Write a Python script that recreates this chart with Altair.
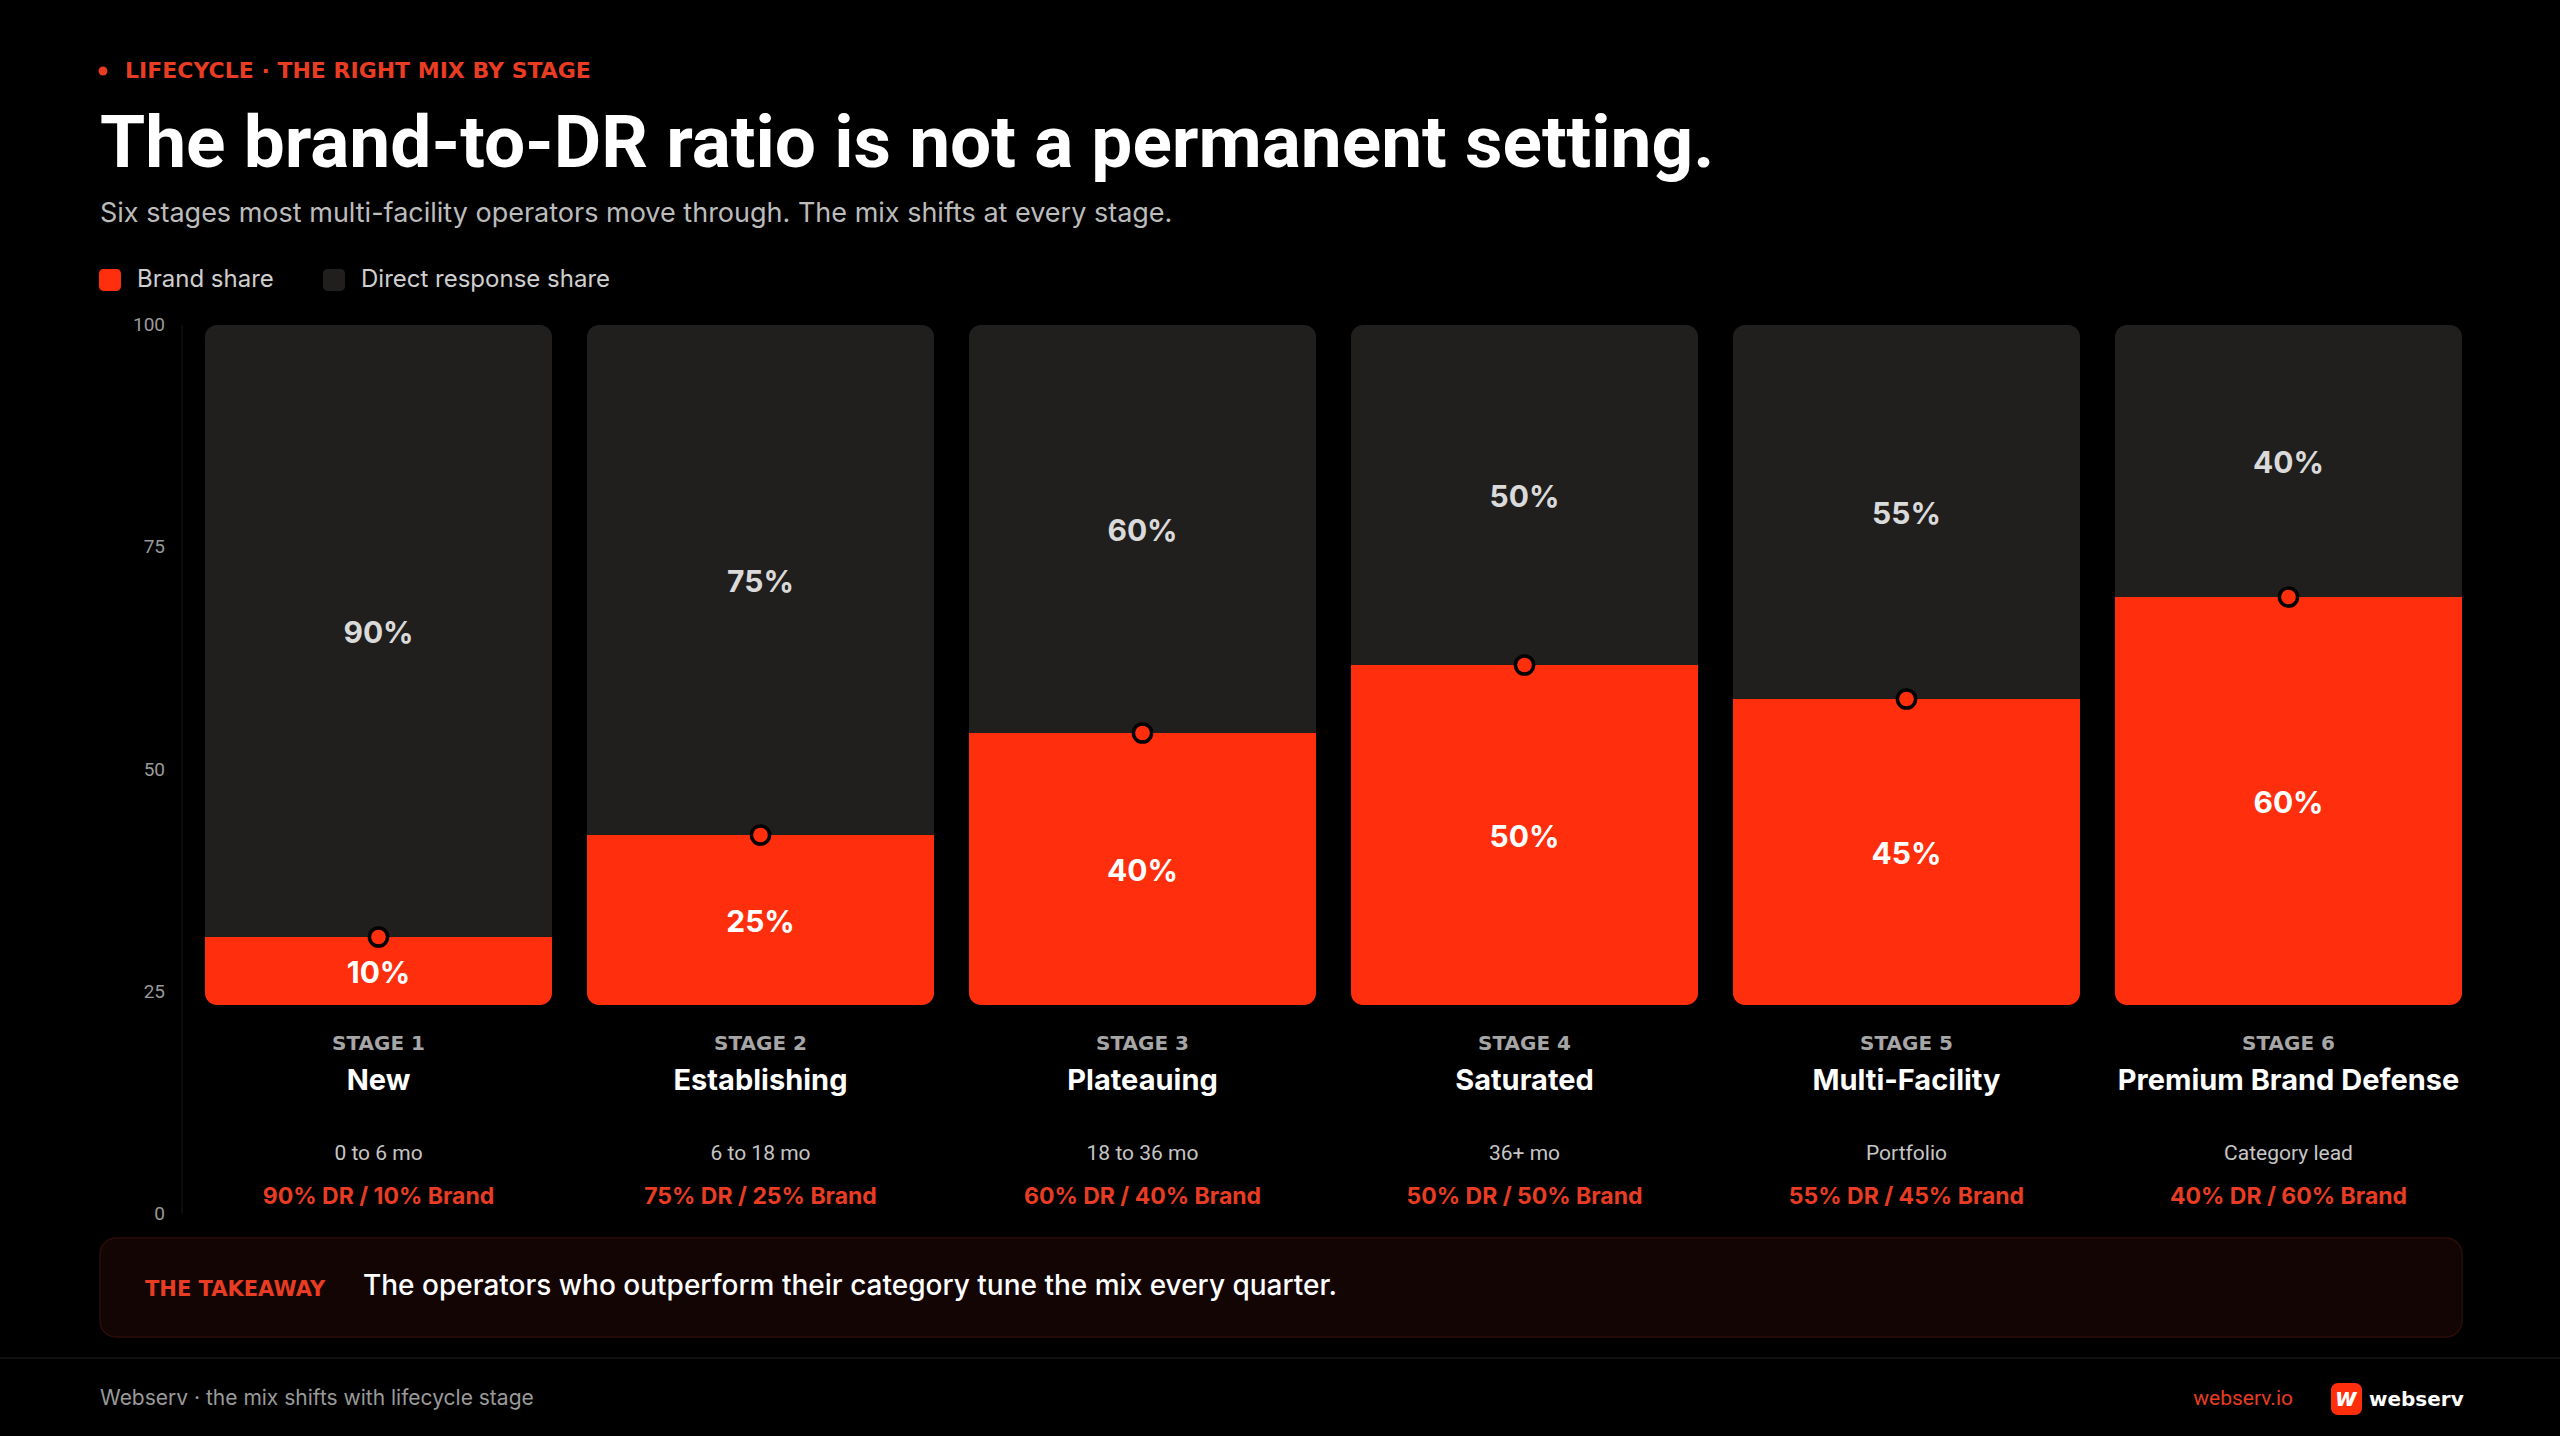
import altair as alt
import pandas as pd

# ---- chart content ----
STAGE_TAGS = ["STAGE 1", "STAGE 2", "STAGE 3", "STAGE 4", "STAGE 5", "STAGE 6"]
STAGE_NAMES = ["New", "Establishing", "Plateauing", "Saturated", "Multi-Facility",
               "Premium Brand Defense"]
STAGE_PERIODS = ["0 to 6 mo", "6 to 18 mo", "18 to 36 mo", "36+ mo", "Portfolio",
                 "Category lead"]
BRAND_SHARE = [10, 25, 40, 50, 45, 60]
DR_SHARE = [90, 75, 60, 50, 55, 40]
AXIS_TICKS = [0, 25, 50, 75, 100]
SERIES = ["Brand share", "Direct response share"]

EYEBROW = "LIFECYCLE · THE RIGHT MIX BY STAGE"
TITLE = "The brand-to-DR ratio is not a permanent setting."
SUBTITLE = ("Six stages most multi-facility operators move through. "
            "The mix shifts at every stage.")
TAKEAWAY_TAG = "THE TAKEAWAY"
TAKEAWAY = "The operators who outperform their category tune the mix every quarter."
FOOTER = "Webserv · the mix shifts with lifecycle stage"
SITE = "webserv.io"
BRAND_NAME = "webserv"
LOGO_GLYPH = "w"

# ---- palette / fonts ----
RED = "#ff2f0d"
RED_TEXT = "#e83c23"
DARK = "#211f1e"
BG = "#000000"
SANS = "Roboto"
TEXT = "Inter"
WIDE = "DejaVu Sans"

W, H = 2560, 1436

df = pd.DataFrame({
    "tag": STAGE_TAGS,
    "name": STAGE_NAMES,
    "period": STAGE_PERIODS,
    "brand": BRAND_SHARE,
    "dr": DR_SHARE,
})
df["total"] = df["brand"] + df["dr"]
df["brand_mid"] = df["brand"] / 2
df["dr_mid"] = df["brand"] + df["dr"] / 2
df["brand_label"] = df["brand"].astype(str) + "%"
df["dr_label"] = df["dr"].astype(str) + "%"
df["mix"] = df["dr"].astype(str) + "% DR / " + df["brand"].astype(str) + "% Brand"

# shared scales: the bars sit in their own band, the tick column spans further down
X = alt.X("name:N", axis=None,
          scale=alt.Scale(domain=STAGE_NAMES, range=[205, 2462],
                          paddingInner=0.0916, paddingOuter=0))
Y_SCALE = alt.Scale(domain=[0, 100], range=[1005, 325], nice=False)
TICK_SCALE = alt.Scale(domain=[0, 100], range=[1214, 325], nice=False)

ROUND_SQUARE = ("M-0.6,-1H0.6A0.4,0.4 0 0 1 1,-0.6V0.6A0.4,0.4 0 0 1 0.6,1"
                "H-0.6A0.4,0.4 0 0 1 -1,0.6V-0.6A0.4,0.4 0 0 1 -0.6,-1Z")

COLOR = alt.Color(
    "series:N",
    scale=alt.Scale(domain=SERIES, range=[RED, DARK]),
    legend=alt.Legend(
        title=None, orient="none", legendX=98, legendY=268, direction="horizontal",
        symbolType=ROUND_SQUARE, symbolSize=484, symbolStrokeWidth=0,
        symbolOpacity=1, labelFont=TEXT, labelFontSize=24, labelColor="#cfcfcf",
        labelOffset=15, labelLimit=500, columnPadding=48, padding=0, offset=0,
    ),
)

base = alt.Chart(df)

dr_bars = base.transform_calculate(series="'Direct response share'").mark_bar(
    cornerRadiusTopLeft=12, cornerRadiusTopRight=12
).encode(
    x=X,
    y=alt.Y("brand:Q", scale=Y_SCALE, axis=None, stack=None),
    y2="total:Q",
    color=COLOR,
)

brand_bars = base.transform_calculate(series="'Brand share'").mark_bar(
    cornerRadiusBottomLeft=12, cornerRadiusBottomRight=12
).encode(
    x=X,
    y=alt.Y("brand:Q", scale=Y_SCALE, axis=None, stack=None),
    y2=alt.datum(0),
    color=COLOR,
)

markers = base.mark_point(
    shape="circle", filled=True, fill=RED, stroke="#000000", strokeWidth=3.5,
    size=330, opacity=1,
).encode(x=X, y=alt.Y("brand:Q", scale=Y_SCALE, axis=None))

dr_text = base.mark_text(
    font=TEXT, fontWeight="bold", fontSize=30, color="#dadada", baseline="middle",
    dy=3,
).encode(x=X, y=alt.Y("dr_mid:Q", scale=Y_SCALE, axis=None), text="dr_label:N")

brand_text = base.mark_text(
    font=TEXT, fontWeight="bold", fontSize=30, color="#ffffff", baseline="middle",
    dy=3,
).encode(x=X, y=alt.Y("brand_mid:Q", scale=Y_SCALE, axis=None), text="brand_label:N")


def stage_row(field, y, **style):
    return base.mark_text(baseline="alphabetic", align="center", **style).encode(
        x=X, y=alt.value(y), text=f"{field}:N"
    )


tag_row = stage_row("tag", 1050, font=WIDE, fontWeight="bold", fontSize=20,
                    color="#a6a6a6")
name_row = stage_row("name", 1090, font=TEXT, fontWeight="bold", fontSize=29,
                     color="#ffffff")
period_row = stage_row("period", 1160, font=SANS, fontSize=21, color="#c6c6c6")
mix_row = stage_row("mix", 1204, font=TEXT, fontWeight="bold", fontSize=23,
                    color=RED_TEXT)

# value column on the left
ticks = alt.Chart(pd.DataFrame({"tick": AXIS_TICKS})).mark_text(
    align="right", baseline="middle", font=SANS, fontSize=19, color="#9a9a9a"
).encode(x=alt.value(165), y=alt.Y("tick:Q", scale=TICK_SCALE, axis=None),
         text="tick:Q")
tick_line = alt.Chart(pd.DataFrame({"tick": [0]})).mark_rule(
    color="#111111", strokeWidth=1.5
).encode(x=alt.value(182), y=alt.value(325), y2=alt.value(1214))


def label(text, x, y, **style):
    return alt.Chart(pd.DataFrame({"t": [text]})).mark_text(
        baseline="alphabetic", **style
    ).encode(x=alt.value(x), y=alt.value(y), text="t:N")


one = pd.DataFrame({"k": [0]})

eyebrow_dot = alt.Chart(one).mark_point(
    shape="circle", filled=True, color=RED_TEXT, size=80, opacity=1
).encode(x=alt.value(103), y=alt.value(71))
eyebrow = label(EYEBROW, 125, 78, align="left", font=WIDE, fontWeight="bold",
                fontSize=22, color=RED_TEXT)
title = label(TITLE, 100, 167, align="left", font=SANS, fontWeight="bold",
              fontSize=73, color="#ffffff")
subtitle = label(SUBTITLE, 100, 222, align="left", font=TEXT, fontSize=27,
                 color="#bcbcbc")

takeaway_box = alt.Chart(one).mark_rect(
    fill="#130504", stroke="#2c0d09", strokeWidth=1.5, cornerRadius=16
).encode(x=alt.value(100), x2=alt.value(2462), y=alt.value(1238), y2=alt.value(1337))
takeaway_tag = label(TAKEAWAY_TAG, 145, 1296, align="left", font=WIDE,
                     fontWeight="bold", fontSize=21, color=RED_TEXT)
takeaway = label(TAKEAWAY, 363, 1295, align="left", font=TEXT, fontWeight=500,
                 fontSize=28, color="#ffffff")

footer_rule = alt.Chart(one).mark_rule(color="#161616", strokeWidth=1.5).encode(
    x=alt.value(0), x2=alt.value(W), y=alt.value(1358)
)
footer = label(FOOTER, 100, 1405, align="left", font=TEXT, fontSize=21,
               color="#9a9a9a")
site = label(SITE, 2293, 1405, align="right", font=SANS, fontSize=21,
             color=RED_TEXT)
logo_box = alt.Chart(one).mark_rect(fill=RED, cornerRadius=7).encode(
    x=alt.value(2331), x2=alt.value(2362), y=alt.value(1383), y2=alt.value(1415)
)
logo_glyph = label(LOGO_GLYPH, 2346, 1406, align="center", font=WIDE,
                   fontWeight="bold", fontStyle="italic", fontSize=24,
                   color="#ffffff")
brand_name = label(BRAND_NAME, 2369, 1406, align="left", font=WIDE,
                   fontWeight="bold", fontSize=20, color="#ffffff")

chart = alt.layer(
    dr_bars, brand_bars, markers, dr_text, brand_text,
    tag_row, name_row, period_row, mix_row,
    tick_line, ticks,
    eyebrow_dot, eyebrow, title, subtitle,
    takeaway_box, takeaway_tag, takeaway,
    footer_rule, footer, site, logo_box, logo_glyph, brand_name,
).resolve_scale(y="independent").properties(
    width=W, height=H, padding=0, background=BG,
    autosize=alt.AutoSizeParams(type="none"),
).configure_view(stroke=None)

chart.save("out.html", embed_options={"renderer": "svg", "actions": False})
